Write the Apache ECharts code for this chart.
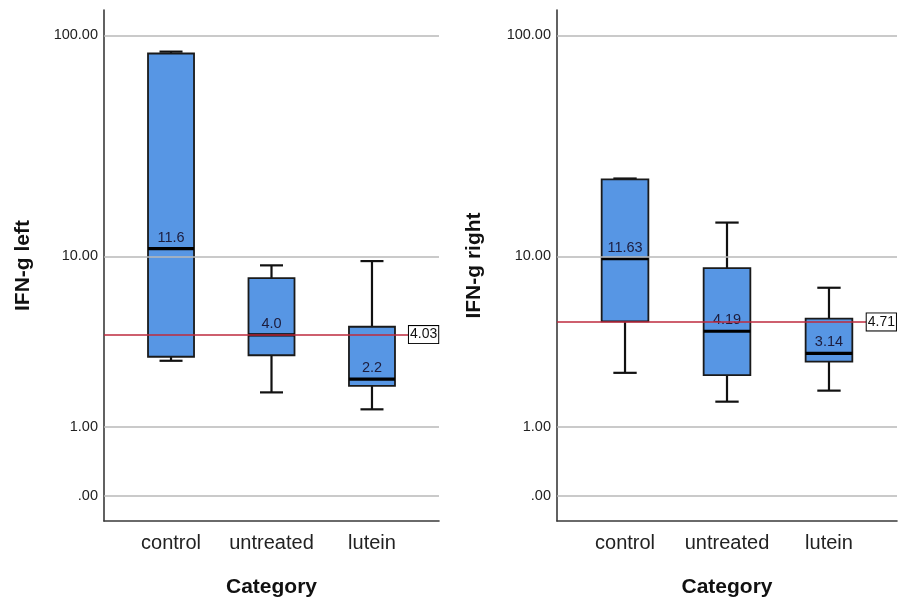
<!DOCTYPE html>
<html><head><meta charset="utf-8">
<script src="https://cdn.jsdelivr.net/npm/echarts@6/dist/echarts.min.js"></script>
<style>html,body{margin:0;padding:0;background:#fff}#chart{width:902px;height:598px}</style>
</head><body><div id="chart"></div>
<script>
const categories = ['control', 'untreated', 'lutein'];
const tickValues = [0, 1, 10, 100];
const tickLabels = ['.00', '1.00', '10.00', '100.00'];

// IFN-g left
const leftMin    = [2.87, 1.82, 1.38];
const leftQ1     = [3.03, 3.09, 2.01];
const leftMedian = [10.9, 4.02, 2.22];
const leftQ3     = [82.9, 7.85, 4.44];
const leftMax    = [84.5, 9.06, 9.50];
const leftLabels = ['11.6', '4.0', '2.2'];
const leftRef = 4.03;
const leftRefLabel = '4.03';

// IFN-g right
const rightMin    = [2.43, 1.57, 1.87];
const rightQ1     = [4.74, 2.35, 2.84];
const rightMedian = [9.75, 4.20, 3.17];
const rightQ3     = [22.8, 8.79, 4.90];
const rightMax    = [23.0, 14.44, 7.04];
const rightLabels = ['11.63', '4.19', '3.14'];
const rightRef = 4.71;
const rightRefLabel = '4.71';

const tf = v => Math.log10(v + 1);
const FONT = 'Liberation Sans, Arial, sans-serif';
const BOX_W = 0.458;

function buildData(mn, q1, md, q3, mx, labels) {
  return categories.map((c, i) => ({ value: [i, tf(mn[i]), tf(q1[i]), tf(md[i]), tf(q3[i]), tf(mx[i])], label: labels[i] }));
}

function renderBox(labels) {
  return function (params, api) {
    const x = api.value(0);
    const lo = api.coord([x, api.value(1)]);
    const q1 = api.coord([x, api.value(2)]);
    const md = api.coord([x, api.value(3)]);
    const q3 = api.coord([x, api.value(4)]);
    const hi = api.coord([x, api.value(5)]);
    const w = api.size([BOX_W, 0])[0];
    const cx = md[0];
    const cap = w / 4;
    const lineStyle = { stroke: '#111', lineWidth: 2.2 };
    return {
      type: 'group',
      children: [
        { type: 'line', shape: { x1: cx, y1: q3[1], x2: cx, y2: hi[1] }, style: lineStyle },
        { type: 'line', shape: { x1: cx - cap, y1: hi[1], x2: cx + cap, y2: hi[1] }, style: lineStyle },
        { type: 'line', shape: { x1: cx, y1: q1[1], x2: cx, y2: lo[1] }, style: lineStyle },
        { type: 'line', shape: { x1: cx - cap, y1: lo[1], x2: cx + cap, y2: lo[1] }, style: lineStyle },
        { type: 'rect', shape: { x: cx - w / 2, y: q3[1], width: w, height: q1[1] - q3[1] },
          style: { fill: '#5796E4', stroke: '#1a1a1a', lineWidth: 1.8 } },
        { type: 'line', shape: { x1: cx - w / 2, y1: md[1], x2: cx + w / 2, y2: md[1] },
          style: { stroke: '#000', lineWidth: 3.2 } },
        { type: 'text', style: { text: labels[params.dataIndex], x: cx, y: md[1] - 11,
          align: 'center', verticalAlign: 'middle', fontSize: 14.5, fontFamily: FONT, fill: '#1c1c3c' } }
      ]
    };
  };
}

function yLabel(v) {
  for (let i = 0; i < tickValues.length; i++) {
    if (Math.abs(tf(tickValues[i]) - v) < 1e-6) return tickLabels[i];
  }
  return '';
}

function makeAxes(idx, yName, nameGap) {
  const x = {
    type: 'value', gridIndex: idx, min: -0.667, max: 2.667,
    name: 'Category', nameLocation: 'middle', nameGap: 56,
    nameTextStyle: { fontSize: 21, fontWeight: 'bold', color: '#111', fontFamily: FONT },
    axisLine: { show: true, onZero: false, lineStyle: { color: '#3a3a3a', width: 1.6 } },
    axisTick: { show: false },
    splitLine: { show: false },
    axisLabel: { customValues: [0, 1, 2], formatter: v => categories[Math.round(v)],
      fontSize: 20, margin: 12, color: '#222', fontFamily: FONT }
  };
  const y = {
    type: 'value', gridIndex: idx, min: -0.109, max: 2.113,
    name: yName, nameLocation: 'middle', nameGap: nameGap,
    nameTextStyle: { fontSize: 21, fontWeight: 'bold', color: '#111', fontFamily: FONT },
    axisLine: { show: true, onZero: false, lineStyle: { color: '#3a3a3a', width: 1.6 } },
    axisTick: { show: false },
    splitLine: { show: false },
    axisLabel: { customValues: tickValues.map(tf), formatter: yLabel,
      fontSize: 14.5, margin: 6, color: '#222', fontFamily: FONT }
  };
  return [x, y];
}

function panelSeries(idx, data, labels, ref, refLabel, refEnd) {
  return [
    { type: 'line', xAxisIndex: idx, yAxisIndex: idx, data: [], z: 1, silent: true,
      markLine: { silent: true, symbol: 'none', animation: false,
        lineStyle: { color: '#B8B8B8', width: 1.5, type: 'solid' }, label: { show: false },
        data: tickValues.map(v => ({ yAxis: tf(v) })) } },
    { type: 'custom', xAxisIndex: idx, yAxisIndex: idx, data: data, z: 2,
      renderItem: renderBox(labels), animation: false },
    { type: 'line', xAxisIndex: idx, yAxisIndex: idx, data: [], z: 3, silent: true,
      markLine: { silent: true, symbol: 'none', animation: false,
        lineStyle: { color: '#BE2A3E', width: 1.5, type: 'solid' },
        label: { show: true, position: 'end', distance: 0, formatter: refLabel,
          backgroundColor: '#fff', borderColor: '#000', borderWidth: 1, padding: [2, 1, 1, 1],
          fontSize: 14, color: '#111', fontFamily: FONT },
        data: [[{ coord: [-0.667, tf(ref)] }, { coord: [refEnd, tf(ref)] }]] } }
  ];
}

const [lx, ly] = makeAxes(0, 'IFN-g left', 70);
const [rx, ry] = makeAxes(1, 'IFN-g right', 72);

const option = {
  animation: false,
  grid: [
    { left: 104, right: 463, top: 10, bottom: 77, containLabel: false, outerBoundsMode: 'none' },
    { left: 557, right: 5, top: 10, bottom: 77, containLabel: false, outerBoundsMode: 'none' }
  ],
  xAxis: [lx, rx],
  yAxis: [ly, ry],
  series: [
    ...panelSeries(0, buildData(leftMin, leftQ1, leftMedian, leftQ3, leftMax, leftLabels), leftLabels, leftRef, leftRefLabel, 2.368),
    ...panelSeries(1, buildData(rightMin, rightQ1, rightMedian, rightQ3, rightMax, rightLabels), rightLabels, rightRef, rightRefLabel, 2.37)
  ]
};

const chart = echarts.init(document.getElementById('chart'), null, { renderer: 'canvas' });
chart.setOption(option);
</script>
</body></html>
